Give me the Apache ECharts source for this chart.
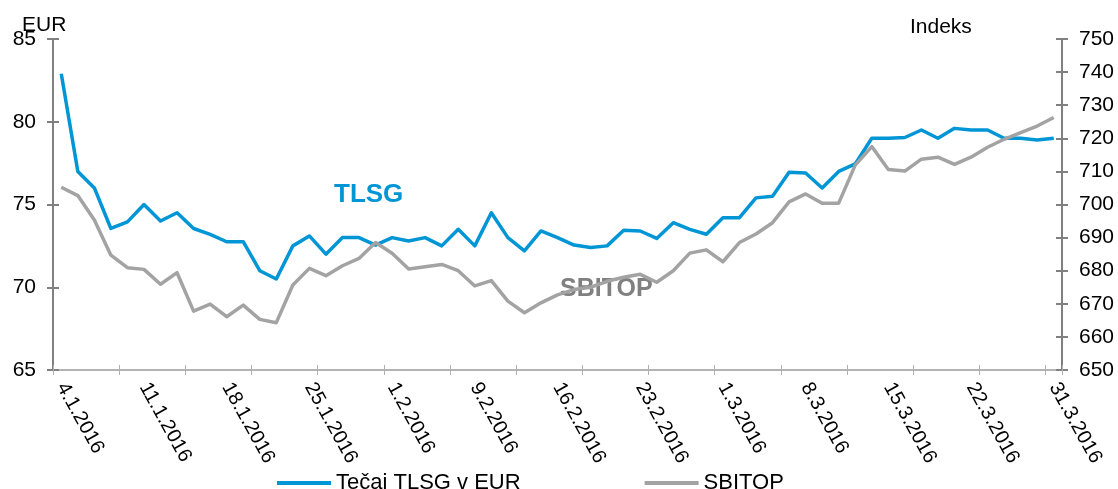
<!DOCTYPE html>
<html>
<head>
<meta charset="utf-8">
<script src="https://cdn.jsdelivr.net/npm/echarts@6/dist/echarts.min.js"></script>
<style>
html,body{margin:0;padding:0;background:#fff;}
#c{width:1118px;height:489px;}
</style>
</head>
<body>
<div id="c"></div>
<script>
const dates = [
 "4.1.2016","5.1.2016","6.1.2016","7.1.2016","8.1.2016",
 "11.1.2016","12.1.2016","13.1.2016","14.1.2016","15.1.2016",
 "18.1.2016","19.1.2016","20.1.2016","21.1.2016","22.1.2016",
 "25.1.2016","26.1.2016","27.1.2016","28.1.2016","29.1.2016",
 "1.2.2016","2.2.2016","3.2.2016","4.2.2016","5.2.2016",
 "9.2.2016","10.2.2016","11.2.2016","12.2.2016","15.2.2016",
 "16.2.2016","17.2.2016","18.2.2016","19.2.2016","22.2.2016",
 "23.2.2016","24.2.2016","25.2.2016","26.2.2016","29.2.2016",
 "1.3.2016","2.3.2016","3.3.2016","4.3.2016","7.3.2016",
 "8.3.2016","9.3.2016","10.3.2016","11.3.2016","14.3.2016",
 "15.3.2016","16.3.2016","17.3.2016","18.3.2016","21.3.2016",
 "22.3.2016","23.3.2016","24.3.2016","29.3.2016","30.3.2016",
 "31.3.2016"
];
const tlsg = [
 82.9,77.0,76.0,73.55,73.95,
 75.0,74.0,74.5,73.55,73.2,
 72.75,72.75,71.0,70.5,72.5,
 73.1,72.0,73.0,73.0,72.55,
 73.0,72.8,73.0,72.5,73.5,
 72.5,74.5,73.0,72.2,73.4,
 73.0,72.55,72.4,72.5,73.45,
 73.4,72.95,73.9,73.5,73.2,
 74.2,74.2,75.4,75.5,76.95,
 76.9,76.0,77.0,77.45,79.0,
 79.0,79.05,79.5,79.0,79.6,
 79.5,79.5,79.0,79.0,78.9,
 79.0
];
const sbitop = [
 705.2,702.7,695.3,684.7,680.9,
 680.4,675.9,679.4,667.8,669.9,
 666.1,669.6,665.3,664.3,675.7,
 680.7,678.5,681.5,683.7,688.5,
 685.3,680.5,681.2,681.9,680.0,
 675.4,677.0,670.8,667.3,670.3,
 672.7,674.3,675.0,676.8,678.0,
 678.9,676.5,680.0,685.3,686.3,
 682.7,688.5,691.1,694.5,700.8,
 703.2,700.4,700.4,711.9,717.5,
 710.6,710.1,713.7,714.3,712.1,
 714.3,717.3,719.7,721.7,723.7,
 726.3
];
const seriesNames = ["Tečaj TLSG v EUR", "SBITOP"];
const leftAxis = {min: 65, max: 85, interval: 5, name: "EUR"};
const rightAxis = {min: 650, max: 750, interval: 10, name: "Indeks"};

const FONT = "Liberation Sans, Arial, sans-serif";
const BLUE = "#0096d6";
const GRAY = "#a3a3a3";
const AXIS = "#808080";

const chart = echarts.init(document.getElementById('c'), null, {renderer: 'canvas'});
const tickOnly = (pos, ax, inside) => ({
  type: 'value', position: pos, min: ax.min, max: ax.max, interval: ax.interval,
  axisLine: {show: false}, axisLabel: {show: false}, splitLine: {show: false},
  axisTick: {show: true, inside: inside, length: 6, lineStyle: {color: AXIS, width: 2}}
});
chart.setOption({
  animation: false,
  backgroundColor: '#fff',
  grid: {left: 53, right: 56, top: 39, bottom: 119, containLabel: false},
  legend: {
    data: seriesNames,
    left: 272, top: 467,
    icon: 'rect', itemWidth: 54, itemHeight: 4, itemGap: 124,
    textStyle: {fontFamily: FONT, fontSize: 22, color: '#000'}
  },
  xAxis: [{
    type: 'category', data: dates, boundaryGap: true,
    axisLine: {lineStyle: {color: '#9a9a9a', width: 1.5}},
    axisTick: {show: true, interval: 3, length: 5, lineStyle: {color: '#b0b0b0', width: 1}},
    axisLabel: {interval: 4, rotate: -61, margin: 14, fontFamily: FONT, fontSize: 20, color: '#000'},
    splitLine: {show: false}
  }, {
    type: 'category', data: dates, boundaryGap: true, position: 'bottom',
    axisLine: {show: false}, axisLabel: {show: false},
    axisTick: {show: true, inside: true, interval: 3, length: 5, lineStyle: {color: '#b0b0b0', width: 1}}
  }],
  yAxis: [{
    type: 'value', position: 'left', min: leftAxis.min, max: leftAxis.max, interval: leftAxis.interval,
    axisLine: {show: true, lineStyle: {color: AXIS, width: 2}},
    axisTick: {show: true, length: 6, lineStyle: {color: AXIS, width: 2}},
    axisLabel: {margin: 17, fontFamily: FONT, fontSize: 21, color: '#000'},
    splitLine: {show: false}
  }, {
    type: 'value', position: 'right', min: rightAxis.min, max: rightAxis.max, interval: rightAxis.interval,
    axisLine: {show: true, lineStyle: {color: AXIS, width: 2}},
    axisTick: {show: true, length: 6, lineStyle: {color: AXIS, width: 2}},
    axisLabel: {margin: 17, fontFamily: FONT, fontSize: 21, color: '#000'},
    splitLine: {show: false}
  },
  tickOnly('left', leftAxis, true),
  tickOnly('right', rightAxis, true)
  ],
  series: [{
    name: seriesNames[0], type: 'line', data: tlsg, yAxisIndex: 0,
    showSymbol: false, symbol: 'none',
    lineStyle: {color: BLUE, width: 3.5, join: 'round'}, itemStyle: {color: BLUE}
  }, {
    name: seriesNames[1], type: 'line', data: sbitop, yAxisIndex: 1,
    showSymbol: false, symbol: 'none',
    lineStyle: {color: GRAY, width: 3.5, join: 'round'}, itemStyle: {color: GRAY}
  }],
  graphic: [
    {type: 'text', left: 22, top: 15, style: {text: leftAxis.name, font: '21px ' + FONT, fill: '#000'}},
    {type: 'text', left: 910, top: 17, style: {text: rightAxis.name, font: '21px ' + FONT, fill: '#000'}},
    {type: 'text', left: 334, top: 182, style: {text: 'TLSG', font: 'bold 26px ' + FONT, fill: BLUE}},
    {type: 'text', left: 560, top: 277, style: {text: 'SBITOP', font: 'bold 25px ' + FONT, fill: '#808080'}}
  ]
});
</script>
</body>
</html>
